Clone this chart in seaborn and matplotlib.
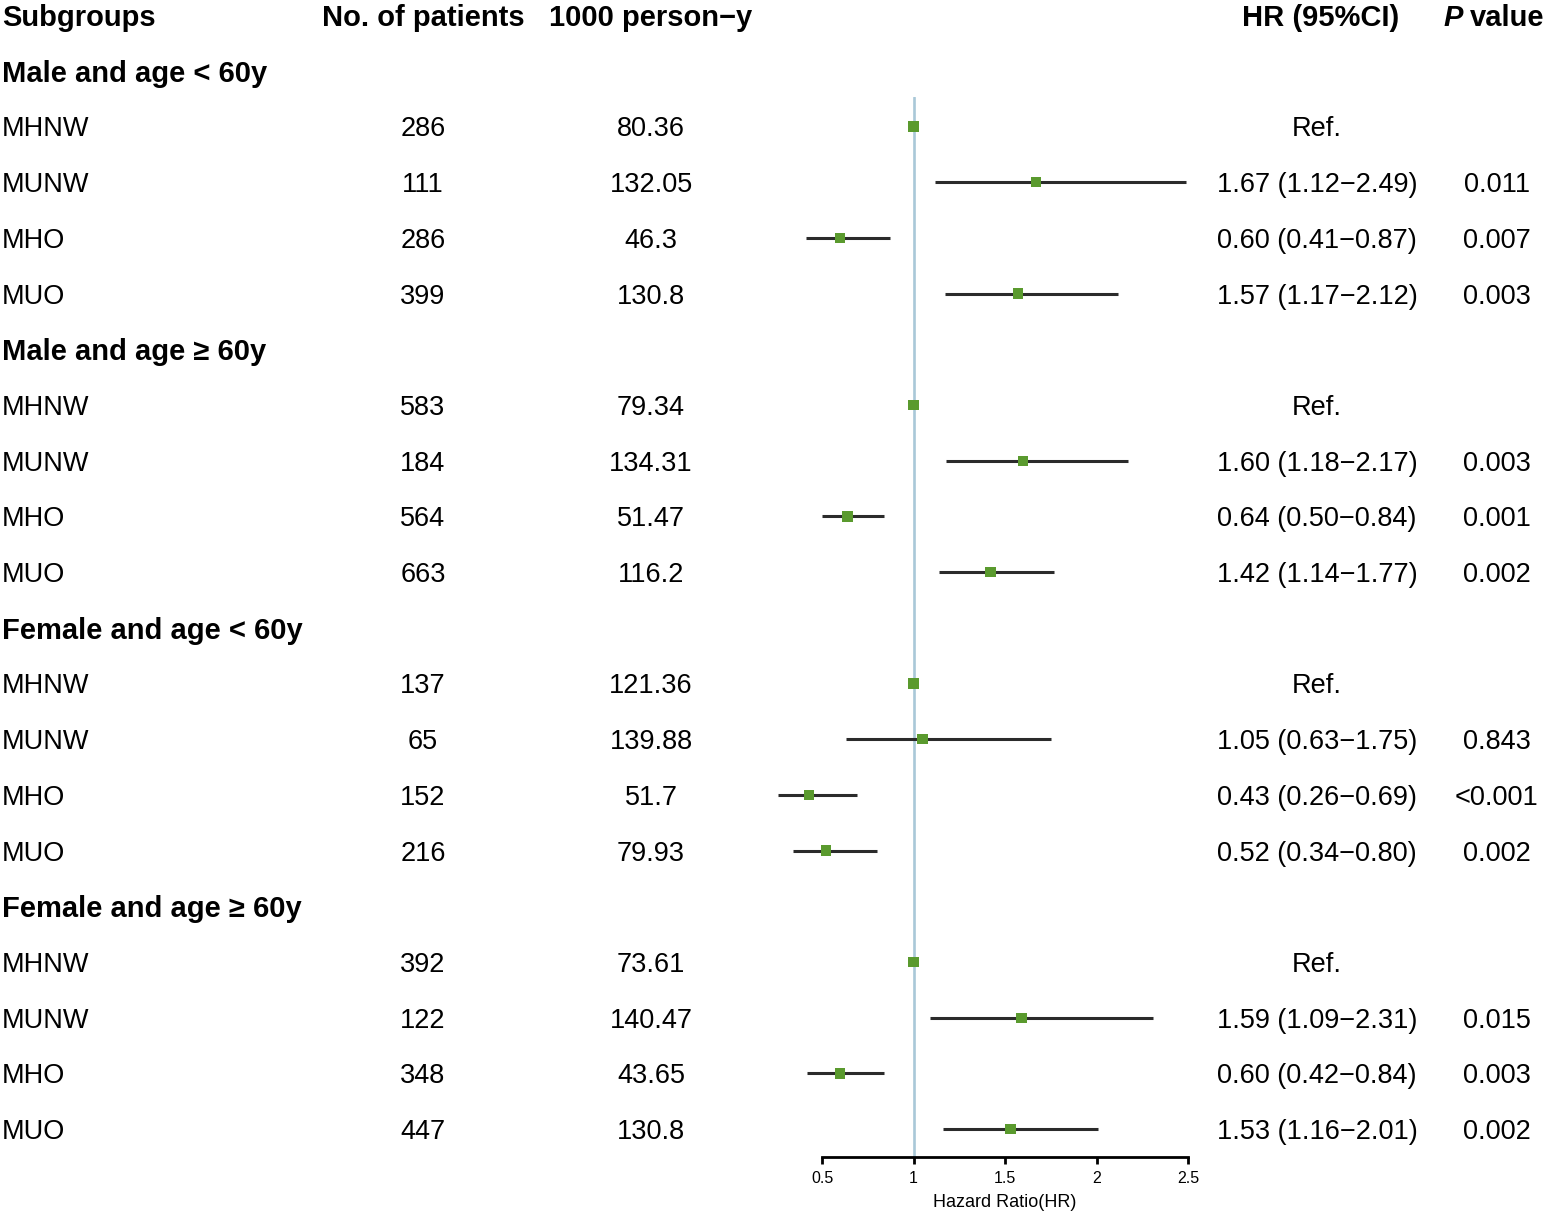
import numpy as np
import pandas as pd
import matplotlib
matplotlib.use('Agg')
import matplotlib.pyplot as plt
import seaborn as sns
from matplotlib import transforms

sns.set_style("white")
plt.rcParams['font.family'] = ['Liberation Sans', 'DejaVu Sans']
plt.rcParams['text.color'] = 'black'
plt.rcParams['axes.labelcolor'] = 'black'
plt.rcParams['xtick.color'] = 'black'

# --- data ---
groups = ["Male and age < 60y", "Male and age \u2265 60y",
          "Female and age < 60y", "Female and age \u2265 60y"]
subtypes = ["MHNW", "MUNW", "MHO", "MUO"]
patients = [286, 111, 286, 399,
            583, 184, 564, 663,
            137, 65, 152, 216,
            392, 122, 348, 447]
person_y = ["80.36", "132.05", "46.3", "130.8",
            "79.34", "134.31", "51.47", "116.2",
            "121.36", "139.88", "51.7", "79.93",
            "73.61", "140.47", "43.65", "130.8"]
hr = [1.00, 1.67, 0.60, 1.57,
      1.00, 1.60, 0.64, 1.42,
      1.00, 1.05, 0.43, 0.52,
      1.00, 1.59, 0.60, 1.53]
hr_low = [1.00, 1.12, 0.41, 1.17,
          1.00, 1.18, 0.50, 1.14,
          1.00, 0.63, 0.26, 0.34,
          1.00, 1.09, 0.42, 1.16]
hr_high = [1.00, 2.49, 0.87, 2.12,
           1.00, 2.17, 0.84, 1.77,
           1.00, 1.75, 0.69, 0.80,
           1.00, 2.31, 0.84, 2.01]
p_values = ["", "0.011", "0.007", "0.003",
            "", "0.003", "0.001", "0.002",
            "", "0.843", "<0.001", "0.002",
            "", "0.015", "0.003", "0.002"]

# row layout: 0 = header, each group takes a label row + 4 subtype rows
rows = []
for g in range(len(groups)):
    for k in range(len(subtypes)):
        i = g * 4 + k
        rows.append({'row': 2 + g * 5 + k, 'sub': subtypes[k], 'n': patients[i],
                     'py': person_y[i], 'hr': hr[i], 'low': hr_low[i],
                     'high': hr_high[i], 'p': p_values[i]})
df = pd.DataFrame(rows)
group_rows = [1 + g * 5 for g in range(len(groups))]

W, H = 1548, 1222
fig = plt.figure(figsize=(W / 100, H / 100), dpi=100)
ax = fig.add_axes([822 / W, (H - 1157) / H, 366 / W, 1060 / H])
ax.set_xlim(0.5, 2.5)
ax.set_ylim(20.5, 1.472)

ax.axvline(1, color='#a9c8d8', lw=1.9, zorder=1)
ax.hlines(df['row'], df['low'], df['high'], color='#2b2b2b', lw=2.2,
          zorder=2, clip_on=False)
sns.scatterplot(data=df, x='hr', y='row', marker='s', s=55, color='#5a9a2e',
                edgecolor='none', ax=ax, zorder=3, legend=False, clip_on=False)

for side in ['left', 'top', 'right']:
    ax.spines[side].set_visible(False)
ax.spines['bottom'].set_color('black')
ax.spines['bottom'].set_linewidth(2)
ax.set_yticks([])
ax.set_ylabel('')
ax.set_xticks([0.5, 1, 1.5, 2, 2.5], labels=['0.5', '1', '1.5', '2', '2.5'])
ax.tick_params(axis='x', bottom=True, direction='out', length=5, width=2,
               labelsize=11.5, pad=5, color='black', labelcolor='black')
ax.set_xlabel('Hazard Ratio(HR)', fontsize=13, labelpad=6)

# text columns: x in figure fraction, y in row units of the forest axes
tr = transforms.blended_transform_factory(fig.transFigure, ax.transData)
fs, fsb = 19.5, 21


def put(xpx, y, s, ha='center', **kw):
    ax.text(xpx / W, y, s, transform=tr, ha=ha, va='center_baseline',
            clip_on=False, **kw)


put(2, 0, "Subgroups", ha='left', fontsize=fsb, fontweight='bold')
put(423, 0, "No. of patients", fontsize=fsb, fontweight='bold')
put(651, 0, "1000 person\u2212y", fontsize=fsb, fontweight='bold')
put(1321, 0, "HR (95%CI)", fontsize=fsb, fontweight='bold')
put(1443, 0, "P", ha='left', fontsize=fsb, fontweight='bold', fontstyle='italic')
put(1470, 0, "value", ha='left', fontsize=fsb, fontweight='bold')

for g, r in zip(groups, group_rows):
    put(2, r, g, ha='left', fontsize=fsb, fontweight='bold')

for _, d in df.iterrows():
    put(2, d['row'], d['sub'], ha='left', fontsize=fs)
    put(423, d['row'], str(d['n']), fontsize=fs)
    put(651, d['row'], d['py'], fontsize=fs)
    if d['p'] == "":
        put(1317, d['row'], "Ref.", fontsize=fs)
    else:
        ci = f"{d['hr']:.2f} ({d['low']:.2f}\u2212{d['high']:.2f})"
        put(1317, d['row'], ci, fontsize=fs)
        put(1497, d['row'], d['p'], fontsize=fs)

fig.savefig("out.png", dpi=100)
